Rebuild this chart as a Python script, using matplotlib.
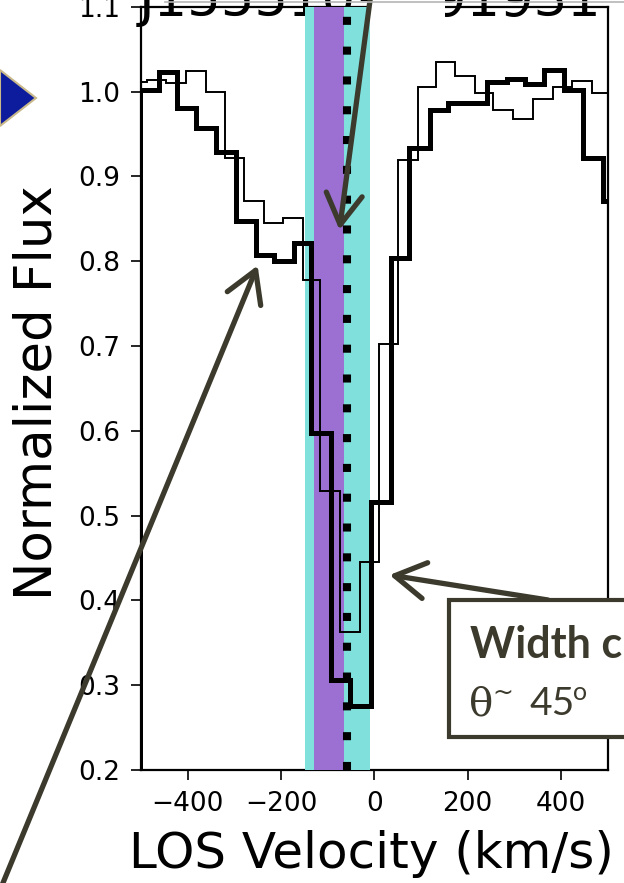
import matplotlib
matplotlib.use("Agg")
import matplotlib.pyplot as plt
from matplotlib.patches import Rectangle, Polygon
from matplotlib.lines import Line2D

# thick spectrum: bin edges (km/s) and normalized flux
thick_edges = [-503, -462, -422, -383, -340, -297, -254, -214, -171, -135, -92,
               -53, -8, 35, 74, 119, 158, 200, 241, 284, 323, 363, 406, 447,
               490, 531]
thick_flux = [1.002, 1.023, 0.981, 0.957, 0.929, 0.847, 0.807, 0.800, 0.821,
              0.597, 0.306, 0.276, 0.516, 0.804, 0.933, 0.978, 0.987, 0.987,
              1.012, 1.015, 1.009, 1.025, 1.002, 0.922, 0.871]

# thin spectrum
thin_edges = [-528, -487, -446, -404, -361, -320, -279, -237, -196, -153, -116,
              -73, -30, 11, 51, 94, 133, 173, 216, 255, 298, 341, 384, 424,
              466, 507]
thin_flux = [1.011, 1.014, 1.010, 1.024, 1.000, 0.922, 0.871, 0.845, 0.851,
             0.778, 0.529, 0.363, 0.445, 0.702, 0.920, 1.006, 1.035, 1.019,
             0.999, 0.978, 0.968, 0.991, 1.005, 1.013, 0.999]

outflow_range = [-148, -10]
core_range = [-130, -64]
line_center = -58

xticks = [-400, -200, 0, 200, 400]
yticks = [0.2, 0.3, 0.4, 0.5, 0.6, 0.7, 0.8, 0.9, 1.0, 1.1]
title = "J155510+391931"

W, H = 624, 883
dark = "#3c3a2c"


def fp(x, y):
    # slide pixel position -> figure fraction
    return (x / W, 1 - y / H)


fig = plt.figure(figsize=(6.24, 8.83), dpi=100)
ax = fig.add_axes([141 / W, 1 - 770 / H, (607.5 - 141) / W, (770 - 6.9) / H])

ax.text(*fp(370, 16), title, transform=fig.transFigure, ha="center",
        va="baseline", fontsize=38, zorder=0.5, clip_on=False)

ax.axvspan(outflow_range[0], outflow_range[1], color="#80e0dc", lw=0, zorder=1)
ax.axvspan(core_range[0], core_range[1], color="#9b70d2", lw=0, zorder=1.1)
ax.axvline(line_center, color="black", lw=5.8, linestyle=(0, (1, 2.7)),
           zorder=1.3)
ax.add_patch(Rectangle((-8, 0.631), 160, 0.6, facecolor="white",
                       edgecolor="none", zorder=1.5, clip_on=False))

ax.stairs(thin_flux, thin_edges, color="black", lw=1.4, zorder=2)
ax.stairs(thick_flux, thick_edges, color="black", lw=3.6, zorder=2.1)

ax.set_xlim(-500, 500)
ax.set_ylim(0.2, 1.1)
ax.set_xticks(xticks)
ax.set_yticks(yticks)
ax.tick_params(direction="out", length=7, width=1.2, labelsize=19, pad=8)
for s in ax.spines.values():
    s.set_linewidth(1.6)
ax.spines["top"].set_zorder(0.8)
ax.spines["bottom"].set_zorder(0.8)

fig.text(*fp(371, 868), "LOS Velocity (km/s)", fontsize=36, ha="center",
         va="baseline")
fig.text(*fp(38, 393), "Normalized Flux", fontsize=37, rotation=90,
         ha="center", va="center")

# arrows
astyle = "->,head_length=2.2,head_width=1.3"
arrows = [((-250, 0.795), (-2, 895)),
          ((-74.5, 0.837), (371.4, -10)),
          ((32.8, 0.430), (548, 600))]
for tip, tail in arrows:
    ax.annotate("", xy=tip, xycoords="data", xytext=fp(*tail),
                textcoords="figure fraction", annotation_clip=False,
                arrowprops=dict(arrowstyle=astyle, color=dark, lw=3.8,
                                mutation_scale=10, shrinkA=0, shrinkB=0),
                zorder=4)

# slide decorations
fig.add_artist(Polygon([fp(0, 70), fp(36, 98), fp(0, 126)], closed=True,
                       transform=fig.transFigure, facecolor="#0c1c9c",
                       edgecolor="#c9b98a", lw=1.5))
fig.add_artist(Line2D([165 / W, 1], [1 - 1.5 / H, 1 - 1.5 / H],
                      transform=fig.transFigure, color="#b5b5b5", lw=1.2))
x0, y0 = fp(449, 737)
fig.add_artist(Rectangle((x0, y0), 200 / W, 137 / H, transform=fig.transFigure,
                         facecolor="white", edgecolor=dark, lw=3))
fig.text(*fp(470, 658), "Width c", fontsize=31, fontweight="bold",
         family=["Lato", "DejaVu Sans"], color=dark, va="baseline")
fig.text(*fp(469, 715), "θ", fontsize=29, family=["DejaVu Serif"], color=dark,
         va="baseline")
fig.text(*fp(492, 700), "~", fontsize=18, family=["DejaVu Sans"],
         color=dark, va="baseline")
fig.text(*fp(529, 715), "45", fontsize=28, family=["Lato", "DejaVu Sans"],
         color=dark, va="baseline")
fig.text(*fp(573, 700), "o", fontsize=18, family=["Lato", "DejaVu Sans"],
         color=dark, va="baseline")

fig.savefig("out.png", dpi=100)
